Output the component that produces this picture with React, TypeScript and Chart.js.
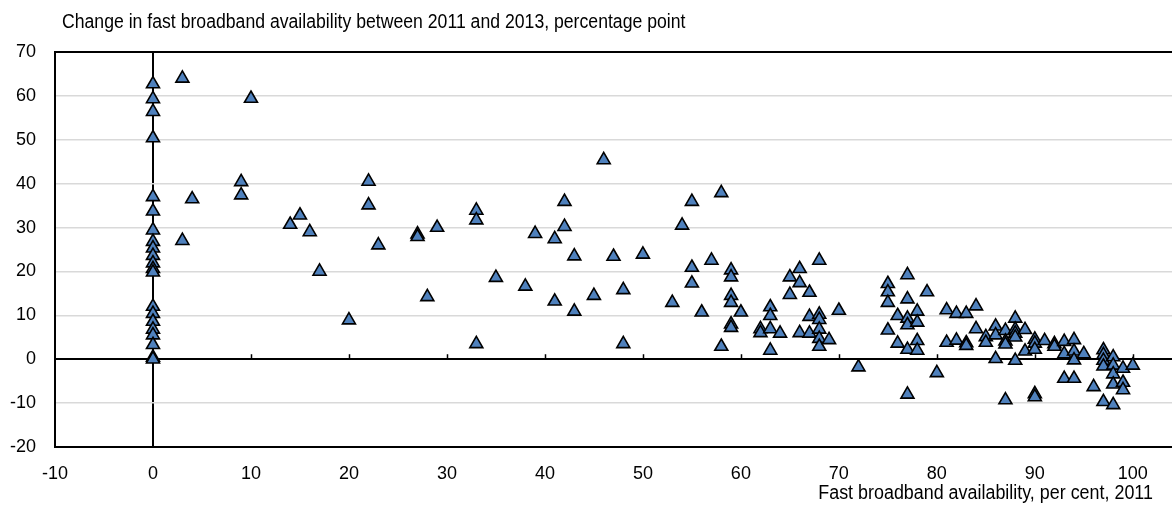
import React, { useEffect, useRef } from "react";
import { Chart, registerables } from "chart.js";

Chart.register(...registerables);

const FONT_FAMILY = "'Liberation Sans', Arial, sans-serif";
const TICK_FONT_SIZE = 18;
const TITLE_FONT_SIZE = 20;

const yAxisTitle = "Change in fast broadband availability between 2011 and 2013, percentage point";
const xAxisTitle = "Fast broadband availability, per cent, 2011";

const xTickValues = [-10, 0, 10, 20, 30, 40, 50, 60, 70, 80, 90, 100];
const yTickValues = [-20, -10, 0, 10, 20, 30, 40, 50, 60, 70];

// Fast broadband availability, per cent, 2011 (x)
const availability2011 = [
  0, 0, 0, 0, 0, 0, 0, 0, 0, 0, 0, 0, 0, 0, 0, 0, 0, 0, 0, 0, 0,
  3, 3, 4, 9, 9, 10, 14, 15, 16, 17, 20, 22, 22, 23, 27, 27, 28, 29,
  33, 33, 33, 35, 38, 39, 41, 41, 42, 42, 43, 43, 45, 46, 47, 48, 48, 50, 53, 54, 55, 55, 55, 56, 57, 58, 58,
  59, 59, 59, 59, 59, 59, 60, 62, 62, 63, 63, 63, 63, 64, 65, 65, 66, 66, 66, 67, 67, 67, 68, 68, 68, 68, 68, 68, 69, 70, 72,
  75, 75, 75, 75, 76, 76, 77, 77, 77, 77, 77, 77, 78, 78, 78, 78, 79, 80, 81, 81, 82, 82, 83, 83, 83, 84, 84,
  85, 85, 86, 86, 86, 87, 87, 87, 87, 88, 88, 88, 88, 88, 89, 89, 90, 90, 90, 90, 90, 91, 92, 92, 93, 93, 93,
  94, 94, 94, 94, 95, 96, 97, 97, 97, 97, 97, 98, 98, 98, 98, 98, 99, 99, 99, 100,
];

// Change in fast broadband availability 2011-2013, percentage points (y)
const change2011to2013 = [
  62.7, 59.3, 56.4, 50.4, 37.0, 33.7, 29.4, 26.8, 25.3, 23.6, 21.9, 20.6, 19.8, 12.0, 10.4, 8.6, 6.8, 5.5, 3.3, 0.4, 0.0,
  64.0, 27.0, 36.5, 40.4, 37.4, 59.4, 30.7, 32.8, 29.0, 20.0, 8.9, 40.5, 35.1, 26.0, 28.5, 27.9, 14.2, 30.0,
  33.9, 31.7, 3.5, 18.6, 16.6, 28.6, 27.4, 13.2, 35.9, 30.2, 23.5, 10.9, 14.5, 45.4, 23.4, 15.8, 3.5, 23.9, 12.9, 30.5, 35.9, 20.9, 17.3, 10.7, 22.5, 37.9, 2.9,
  20.3, 18.7, 14.5, 12.9, 8.0, 7.2, 10.7, 6.9, 6.0, 11.9, 9.9, 6.9, 2.0, 5.9, 18.7, 14.7, 20.6, 17.4, 6.0, 15.2, 9.7, 5.9, 22.5, 10.2, 9.0, 6.8, 4.7, 2.9, 4.4, 11.1, -1.8,
  17.2, 15.3, 12.9, 6.6, 9.9, 3.6, 19.2, 13.7, 9.3, 7.8, 2.2, -8.0, 10.9, 8.4, 4.2, 2.0, 15.3, -3.1, 11.2, 3.8, 10.4, 4.3, 10.4, 3.7, 3.1, 12.1, 6.9,
  5.1, 3.8, 7.5, 5.5, 0.1, 6.5, 4.1, 3.4, -9.3, 9.3, 6.8, 5.9, 5.0, -0.3, 6.7, 1.8, 4.5, 3.6, 2.2, -7.9, -8.6, 4.2, 3.5, 2.9, 4.0, 1.2, -4.4,
  4.4, 1.8, -0.2, -4.4, 1.2, -6.3, 2.1, 1.0, -0.3, -1.6, -9.7, 0.5, -1.4, -3.4, -5.7, -10.4, -2.1, -5.3, -7.0, -1.4,
];

const W = 1172;
const H = 514;

const zeroLineTicks = {
  id: "zeroLineTicks",
  beforeDatasetsDraw(chart: any) {
    const { ctx, scales } = chart;
    const xs = scales.x;
    const ys = scales.y;
    const y0 = ys.getPixelForValue(0);
    ctx.save();
    ctx.strokeStyle = "#000";
    ctx.lineWidth = 1.5;
    xTickValues.forEach((v) => {
      if (v === -10) return;
      const px = Math.round(xs.getPixelForValue(v)) + 0.5;
      ctx.beginPath();
      ctx.moveTo(px, y0);
      ctx.lineTo(px, y0 - 5);
      ctx.stroke();
    });
    ctx.restore();
  },
};

export default function App() {
  const canvasRef = useRef<HTMLCanvasElement | null>(null);

  useEffect(() => {
    const canvas = canvasRef.current;
    if (!canvas) return;
    const points = availability2011.map((x, i) => ({ x, y: change2011to2013[i] }));
    const font = { family: FONT_FAMILY, size: TICK_FONT_SIZE };
    const chart = new Chart(canvas, {
      type: "scatter",
      data: {
        datasets: [
          {
            data: points,
            pointStyle: "triangle",
            pointRadius: 7.5,
            pointHoverRadius: 7.5,
            backgroundColor: "#4F81BD",
            borderColor: "#000000",
            borderWidth: 1.6,
          },
        ],
      },
      options: {
        animation: false,
        responsive: false,
        events: [],
        layout: { autoPadding: false, padding: { top: 52, left: 0, right: 0, bottom: 0 } },
        plugins: {
          legend: { display: false },
          tooltip: { enabled: false },
          title: { display: false },
        },
        scales: {
          x: {
            type: "linear",
            min: -10,
            max: 104,
            afterBuildTicks: (s: any) => {
              s.ticks = xTickValues.map((v) => ({ value: v }));
            },
            afterFit: (s: any) => {
              s.height = 67;
            },
            ticks: {
              stepSize: 10,
              autoSkip: false,
              maxRotation: 0,
              color: "#000",
              font,
              padding: 16,
            },
            grid: {
              drawTicks: false,
              color: (c: any) => (c.tick && c.tick.value === 0 ? "#000" : "rgba(0,0,0,0)"),
              lineWidth: 2,
            },
            border: { display: true, color: "#000", width: 2 },
          },
          y: {
            type: "linear",
            min: -20,
            max: 70,
            afterBuildTicks: (s: any) => {
              s.ticks = yTickValues.map((v) => ({ value: v }));
            },
            afterFit: (s: any) => {
              s.width = 55;
            },
            ticks: {
              stepSize: 10,
              color: "#000",
              font,
              padding: 19,
            },
            grid: {
              drawTicks: false,
              color: (c: any) => {
                const v = c.tick ? c.tick.value : null;
                return v === 0 || v === 70 || v === -20 ? "#000" : "#d9d9d9";
              },
              lineWidth: (c: any) => {
                const v = c.tick ? c.tick.value : null;
                return v === 0 || v === 70 || v === -20 ? 2 : 1.5;
              },
            },
            border: { display: true, color: "#000", width: 2 },
          },
        },
      },
      plugins: [zeroLineTicks],
    } as any);
    return () => chart.destroy();
  }, []);

  const textStyle: React.CSSProperties = {
    position: "absolute",
    fontFamily: FONT_FAMILY,
    fontSize: TITLE_FONT_SIZE,
    lineHeight: "20px",
    whiteSpace: "nowrap",
    color: "#000",
    pointerEvents: "none",
  };

  return (
    <div style={{ position: "absolute", left: 0, top: 0, width: W, height: H, background: "#fff", overflow: "hidden" }}>
      <canvas ref={canvasRef} width={W} height={H} style={{ width: W, height: H, display: "block" }} />
      <div style={{ ...textStyle, left: 62, top: 11, transform: "scaleX(0.882)", transformOrigin: "left center" }}>
        {yAxisTitle}
      </div>
      <div style={{ ...textStyle, right: 19, top: 482, transform: "scaleX(0.895)", transformOrigin: "right center" }}>
        {xAxisTitle}
      </div>
    </div>
  );
}
